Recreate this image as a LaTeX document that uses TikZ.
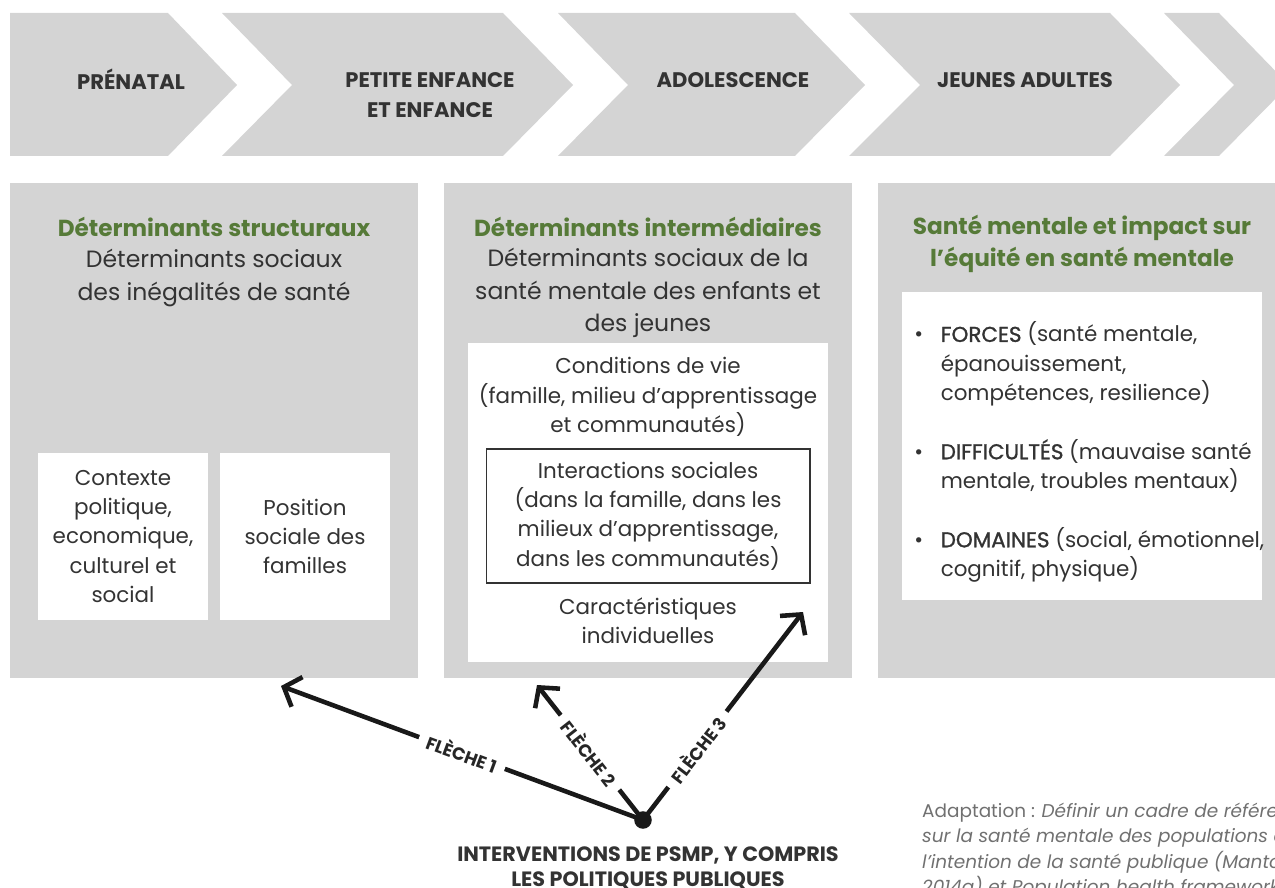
\documentclass[tikz,border=0pt]{standalone}
\usepackage{fontspec}
\setmainfont{Poppins}
\newfontfamily\moyenfont[FakeBold=1.2]{Poppins}
\usepackage{xcolor}
\usepackage{tikz}
\usetikzlibrary{arrows.meta,positioning}

\definecolor{gris}{RGB}{212,212,212}
\definecolor{vert}{RGB}{86,122,56}
\definecolor{encre}{RGB}{51,51,51}
\definecolor{note}{RGB}{112,112,112}
\newcommand{\moyen}[1]{{\moyenfont #1}}

\tikzset{
  etape/.style={font=\bfseries\fontsize{12}{17}\selectfont, text=encre, align=center},
  titre/.style={font=\bfseries\fontsize{13.2}{18.1}\selectfont, text=vert, align=center},
  sous/.style={font=\fontsize{13.4}{18.5}\selectfont, text=encre, align=center},
  corps/.style={font=\fontsize{12.2}{16.7}\selectfont, text=encre, align=center},
  boite/.style={fill=white, inner sep=0pt},
  cadre/.style={draw=encre, line width=0.6pt, inner sep=0pt},
  point/.style={circle, fill=black!90, inner sep=0pt, minimum size=10pt},
  fleche/.style={line width=2.6pt, draw=black!90, -{Straight Barb[length=8pt,width=18pt]}},
  marque/.style={font=\bfseries\fontsize{10}{11}\selectfont, text=black!85, fill=white, sloped, inner sep=5pt},
  source/.style={font=\fontsize{10.5}{14.4}\selectfont, text=note, align=left},
}

\begin{document}
\begin{tikzpicture}[x=0.02cm,y=-0.02cm]
\useasboundingbox (0,0) rectangle (1275,888);
\clip (0,0) rectangle (1275,888);

% etapes de vie
\fill[gris] (10,13) -- (168,13) -- (237,85) -- (168,156) -- (10,156) -- cycle;
\fill[gris] (222,13) -- (503,13) -- (573,85) -- (503,156) -- (222,156) -- (292,85) -- cycle;
\fill[gris] (558,13) -- (795,13) -- (865,85) -- (795,156) -- (558,156) -- (628,85) -- cycle;
\fill[gris] (849,13) -- (1110,13) -- (1180,85) -- (1110,156) -- (849,156) -- (920,85) -- cycle;
\fill[gris] (1164,13) -- (1219,13) -- (1289,85) -- (1219,156) -- (1164,156) -- (1234,85) -- cycle;

\node[etape] (prenatal) at (131,79) {PRÉNATAL};
\node[etape] (enfance) at (430,95) {PETITE ENFANCE\\ET ENFANCE};
\node[etape] (ado) at (733,80) {ADOLESCENCE};
\node[etape] (jeunes) at (1025,80) {JEUNES ADULTES};

% panneaux
\fill[gris] (10,183) rectangle (418,678);
\fill[gris] (444,183) rectangle (852,678);
\fill[gris] (878,183) rectangle (1286,678);

\node[titre] (structuraux) at (214,227) {Déterminants structuraux};
\node[sous] (inegalites) at (214,278) {Déterminants sociaux\\des inégalités de santé};
\node[boite, corps, minimum width=3.4cm, minimum height=3.34cm] (contexte) at (123,536.5)
  {Contexte\\politique,\\economique,\\culturel et\\social};
\node[boite, corps, minimum width=3.4cm, minimum height=3.34cm] (position) at (305,536.5)
  {Position\\sociale des\\familles};

\node[titre] (intermediaires) at (648,227) {Déterminants intermédiaires};
\node[sous] (jeunesse) at (648,293) {Déterminants sociaux de la\\santé mentale des enfants et\\des jeunes};
\fill[white] (468,343) rectangle (828,662);
\node[corps] (conditions) at (648,397) {Conditions de vie\\(famille, milieu d’apprentissage\\et communautés)};
\node[cadre, corps, minimum width=6.48cm, minimum height=2.68cm] (interactions) at (648,516)
  {Interactions sociales\\(dans la famille, dans les\\milieux d’apprentissage,\\dans les communautés)};
\node[corps] (individus) at (648,620.5) {Caractéristiques\\individuelles};

\node[titre] (equite) at (1082,244) {Santé mentale et impact sur\\l’équité en santé mentale};
\fill[white] (902,292) rectangle (1262,600);
\node[corps, align=left, anchor=north west, inner sep=0pt] (etats) at (914,321) {%
\begin{tabular}{@{}l@{\hspace{10pt}}l@{}}
\textbullet & \moyen{FORCES} (santé mentale,\\
 & épanouissement,\\
 & compétences, resilience)\\[16.7pt]
\textbullet & \moyen{DIFFICULTÉS} (mauvaise santé\\
 & mentale, troubles mentaux)\\[16.7pt]
\textbullet & \moyen{DOMAINES} (social, émotionnel,\\
 & cognitif, physique)
\end{tabular}};

% interventions
\node[point] (psmp) at (643,820) {};
\node[etape, font=\bfseries\fontsize{11.8}{14.4}\selectfont] (politiques) at (648,868)
  {INTERVENTIONS DE PSMP, Y COMPRIS\\LES POLITIQUES PUBLIQUES};
\coordinate (cible1) at (281,686);
\coordinate (cible2) at (537,685);
\coordinate (cible3) at (803,612);
\draw[fleche] (psmp.center) -- node[marque] {FLÈCHE 1} (cible1);
\draw[fleche] (psmp.center) -- node[marque] {FLÈCHE 2} (cible2);
\draw[fleche] (psmp.center) -- node[marque, pos=0.34] {FLÈCHE 3} (cible3);

\node[source, anchor=north west] (adaptation) at (916,797)
  {Adaptation : \textit{Définir un cadre de référence}\\
   \textit{sur la santé mentale des populations à}\\
   \textit{l’intention de la santé publique (Mantoura,}\\
   \textit{2014a) et Population health framework}};
\end{tikzpicture}
\end{document}
